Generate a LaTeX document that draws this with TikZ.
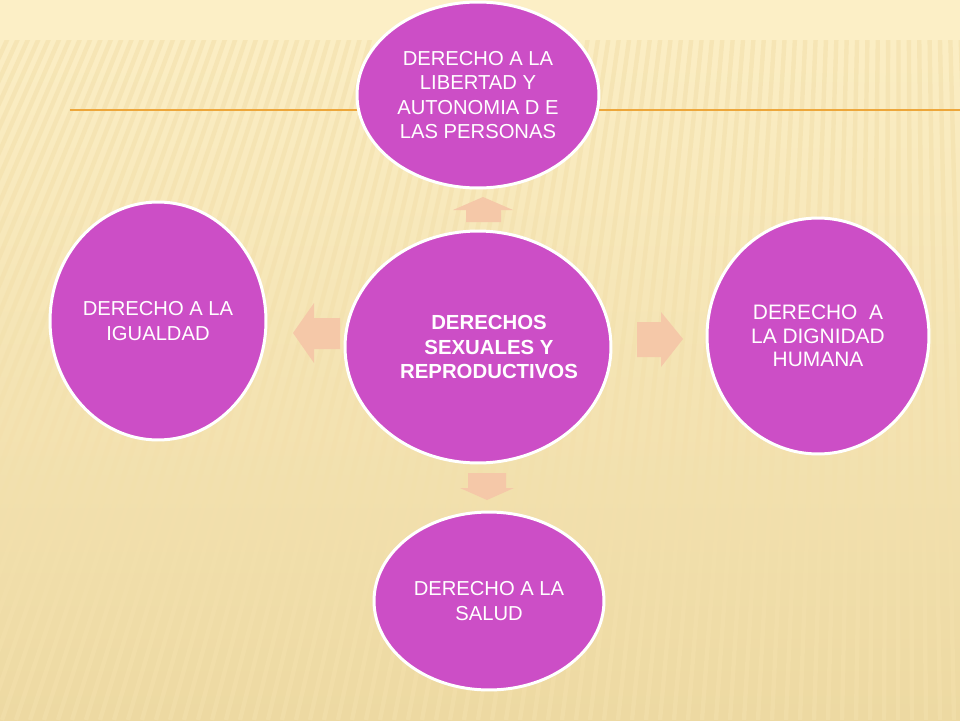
\documentclass[tikz,border=0pt]{standalone}
\usepackage{fontspec}
\setmainfont{Liberation Sans}
\usetikzlibrary{calc, shapes.geometric}
\definecolor{cream}{HTML}{FCEFC6}
\definecolor{creamdark}{HTML}{EDD9A2}
\definecolor{stripe}{HTML}{F3E0AC}
\definecolor{rule}{HTML}{EDA63A}
\definecolor{bubble}{HTML}{CC4EC6}
\definecolor{peach}{HTML}{F5C8A8}

\begin{document}
\begin{tikzpicture}[x=0.02cm,y=-0.02cm,
        bubble/.style={ellipse,fill=bubble,draw=white,line width=1.7pt,
            text=white,align=center,inner sep=0pt,
            font=\fontsize{11.5}{13.9}\selectfont},
        blockarrow/.style={fill=peach}]
            % background
            \useasboundingbox (0,0) rectangle (960,720);
            \shade[top color=cream,bottom color=creamdark] (0,0) rectangle (960,720);
            \fill[cream] (0,0) rectangle (960,40);
            \begin{scope}
                \clip (0,40) rectangle (960,720);
                \foreach \x in {-600,-586,...,1100}
                    \draw[stripe,line width=2.5pt,opacity=0.6] (\x,720) -- ($(\x,720)!0.32!(900,-1900)$);
            \end{scope}
            \draw[rule,line width=1pt] (70,110) -- (960,110);
            % circles
            \node[bubble,minimum width=4.84cm,minimum height=3.72cm] (libertad) at (478,95)
                {DERECHO A LA\\LIBERTAD Y\\AUTONOMIA D E\\LAS PERSONAS};
            \node[bubble,minimum width=5.32cm,minimum height=4.64cm] (centro) at (478,347) {};
            \node[text=white,align=center,font=\fontsize{11.6}{13.7}\selectfont\bfseries]
                (centrolabel) at (489,347) {DERECHOS\\SEXUALES Y\\REPRODUCTIVOS};
            \node[bubble,minimum width=4.32cm,minimum height=4.76cm] (igualdad) at (158,321)
                {DERECHO A LA\\IGUALDAD};
            \node[bubble,minimum width=4.44cm,minimum height=4.72cm,
                font=\fontsize{11.9}{13.3}\selectfont] (dignidad) at (818,336)
                {DERECHO\ \ A\\LA DIGNIDAD\\HUMANA};
            \node[bubble,minimum width=4.6cm,minimum height=3.56cm] (salud) at (489,601)
                {DERECHO A LA\\SALUD};
            % arrows
            \fill[blockarrow] (483,197) -- (513,210) -- (501,210) -- (501,222)
                -- (466,222) -- (466,210) -- (453,210) -- cycle;
            \fill[blockarrow] (293,333) -- (314,303) -- (314,318) -- (340,318)
                -- (340,349) -- (314,349) -- (314,363) -- cycle;
            \fill[blockarrow] (683,339) -- (661,312) -- (661,322) -- (637,322)
                -- (637,357) -- (661,357) -- (661,367) -- cycle;
            \fill[blockarrow] (487,500) -- (514,488) -- (506,488) -- (506,473)
                -- (468,473) -- (468,488) -- (460,488) -- cycle;
        \end{tikzpicture}
\end{document}
